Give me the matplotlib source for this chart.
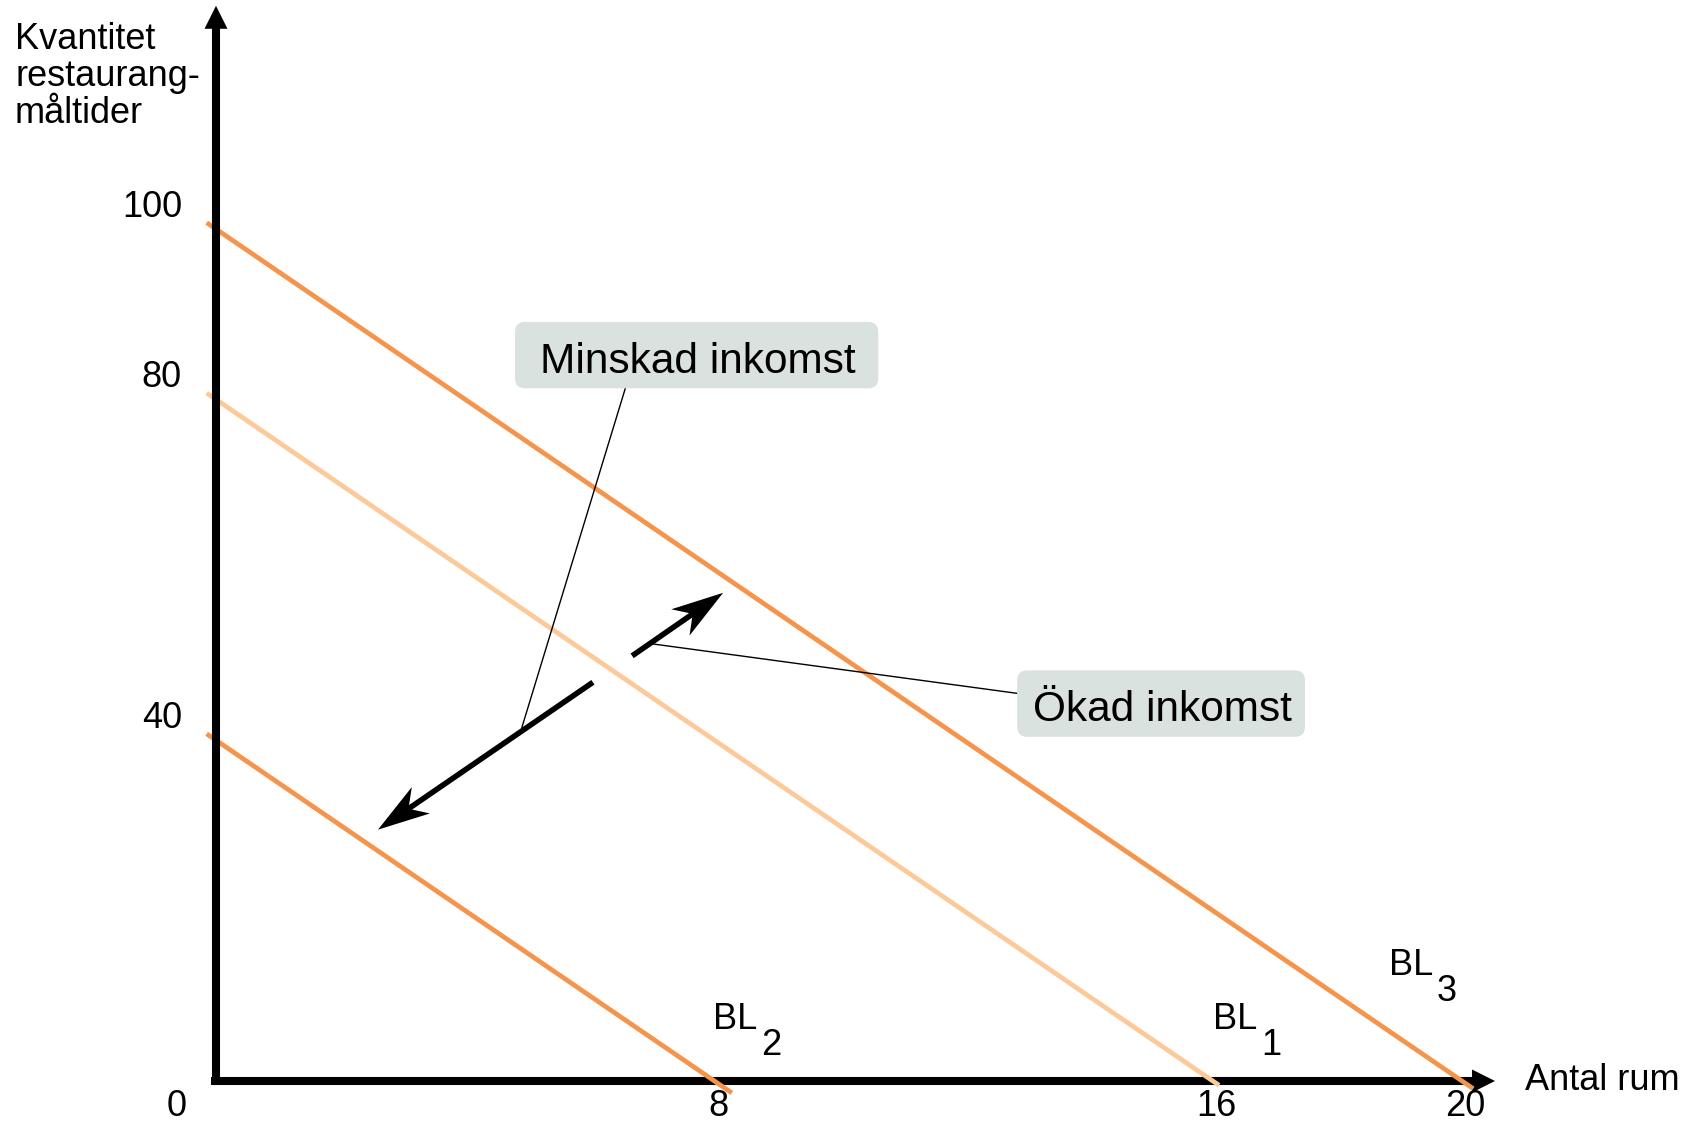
import numpy as np
import matplotlib.pyplot as plt
from matplotlib.patches import Polygon, FancyBboxPatch

plt.rcParams['font.family'] = ['Liberation Sans', 'DejaVu Sans']

# Budgetlinjer: skärning med x-axeln (antal rum) och y-axeln (måltider)
line_names = ['1', '2', '3']
rooms_max = [16, 8, 20]
meals_max = [80, 40, 100]

xtick_values = [8, 16, 20]
ytick_values = [100, 80, 40]

# utseende
line_colors = ['#FDC999', '#F5944A', '#F5944A']
line_overshoot = [0.1, 0.28, 0.18]
label_pos = [(16.0, 6.1), (7.98, 6.1), (18.83, 12.44)]
box_color = '#D9E2DF'

fig = plt.figure(figsize=(17, 11.21), dpi=100)
ax = fig.add_axes([0, 0, 1, 1])
ax.set_xlim(-3.467, 23.82)
ax.set_ylim(-4.695, 126.88)
ax.axis('off')


def arrow(tail, tip, lw, head_len, head_half, notch, z):
    # pilspets byggs i pixlar så att formen inte förvrängs av skalorna
    p0 = ax.transData.transform(tail)
    p1 = ax.transData.transform(tip)
    u = (p1 - p0) / np.hypot(*(p1 - p0))
    n = np.array([-u[1], u[0]])
    head = np.array([p1,
                     p1 - head_len * u + head_half * n,
                     p1 - notch * u,
                     p1 - head_len * u - head_half * n])
    inv = ax.transData.inverted()
    ax.add_patch(Polygon(inv.transform(head), closed=True, fc='black',
                         ec='none', zorder=z))
    end = inv.transform(p1 - (notch - 1) * u)
    ax.plot([tail[0], end[0]], [tail[1], end[1]], color='black', lw=lw,
            solid_capstyle='butt', zorder=z)


# axlar
arrow((-0.08, 0), (20.53, 0), 5.8, 23, 11.5, 23, 2)
arrow((0, -0.47), (0, 126.2), 5.8, 23, 11.5, 23, 4)

# budgetlinjerna
for xm, ym, c, ext in zip(rooms_max, meals_max, line_colors, line_overshoot):
    x = np.array([-0.15, xm + ext])
    ax.plot(x, ym * (1 - x / xm), color=c, lw=3.4, solid_capstyle='butt',
            zorder=3)

for name, (lx, ly) in zip(line_names, label_pos):
    ax.text(lx, ly, 'BL', fontsize=26, ha='left', va='baseline')
    ax.text(lx + 0.77, ly - 3.1, name, fontsize=26, ha='left', va='baseline')

# skalstreck
for v in ytick_values:
    ax.text(-0.546, v + 1.4, str(v), fontsize=26, ha='right', va='baseline')
for v in xtick_values:
    ax.text(v + 0.06, -4.1, str(v), fontsize=26, ha='center', va='baseline')
ax.text(-0.626, -4.1, '0', fontsize=26, ha='center', va='baseline')

ax.text(-3.226, 112.4, 'Kvantitet\nrestaurang-\nmåltider', fontsize=26,
        ha='left', va='baseline', linespacing=1.08)
ax.text(21.01, -1.06, 'Antal rum', fontsize=26, ha='left', va='baseline')

# inkomstpilar
arrow((6.05, 46.8), (2.60, 29.5), 4.0, 52, 16, 37, 5)
arrow((6.68, 49.9), (8.14, 57.3), 4.0, 52, 16, 37, 5)

# förklaringsrutor med linjer
aspect = 62.3 / 8.52
for (x0, x1, y0, y1), (tx, ty), txt in [
        ((4.80, 10.63, 81.3, 89.1), (7.74, 83.1), 'Minskad inkomst'),
        ((12.86, 17.48, 40.4, 48.2), (15.19, 42.25), 'Ökad inkomst')]:
    ax.add_patch(FancyBboxPatch((x0, y0), x1 - x0, y1 - y0,
                                boxstyle='round,pad=0,rounding_size=0.16',
                                mutation_aspect=aspect, fc=box_color,
                                ec='none', zorder=6))
    ax.text(tx, ty, txt, fontsize=30.5, ha='center', va='baseline', zorder=7)

ax.plot([6.57, 4.91], [81.3, 41.5], color='black', lw=1.0, zorder=5)
ax.plot([7.01, 12.86], [51.3, 45.5], color='black', lw=1.0, zorder=5)

fig.savefig('out.png', dpi=100)
